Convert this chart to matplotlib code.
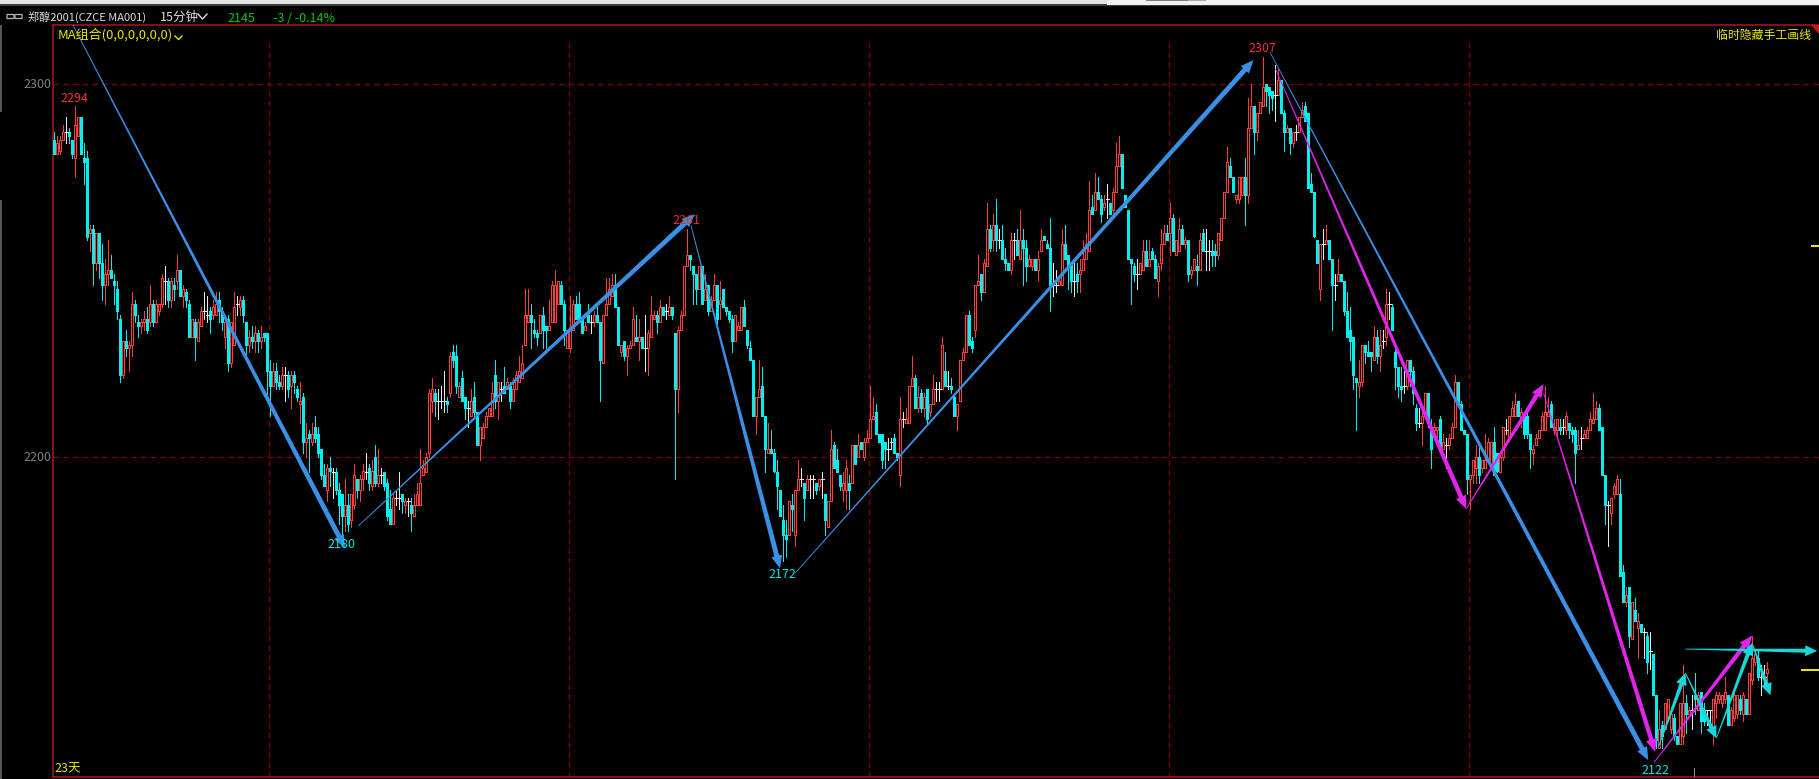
import numpy as np
import matplotlib
matplotlib.use('Agg')
import matplotlib.pyplot as plt
from matplotlib.patches import Polygon, Rectangle, FancyBboxPatch
from matplotlib.transforms import IdentityTransform

plt.rcParams['font.family'] = ['Noto Sans CJK SC', 'DejaVu Sans']

# 15 minute bars
opens = [
 2285,2281,2282,2285,2287,2287,2285,2280,2286,2291, 2280,2280,2260,2261,2252,2260,2252,2246,2249,2250,
 2247,2245,2237,2222,2231,2229,2230,2241,2236,2235, 2236,2237,2236,2241,2236,2239,2241,2247,2247,2242,
 2246,2247,2250,2243,2244,2241,2232,2236,2231,2235, 2239,2238,2239,2238,2238,2242,2239,2232,2237,2225,
 2230,2241,2240,2242,2236,2230,2232,2231,2233,2231, 2233,2233,2223,2219,2223,2220,2219,2222,2222,2219,
 2222,2218,2214,2216,2204,2206,2204,2208,2206,2202, 2195,2191,2197,2196,2196,2191,2190,2184,2187,2183,
 2187,2194,2191,2194,2196,2197,2192,2200,2193,2195, 2196,2193,2186,2182,2189,2189,2190,2187,2188,2187,
 2184,2187,2187,2195,2196,2201,2215,2217,2215,2215, 2215,2215,2217,2228,2227,2216,2221,2216,2213,2211,
 2216,2212,2203,2205,2208,2211,2211,2222,2215,2218, 2219,2218,2219,2215,2218,2220,2221,2230,2236,2238,
 2234,2233,2233,2238,2235,2234,2236,2236,2241,2246, 2241,2229,2229,2234,2241,2241,2237,2234,2238,2236,
 2236,2238,2236,2225,2238,2241,2243,2246,2240,2228, 2231,2227,2229,2230,2232,2231,2232,2229,2229,2232,
 2237,2238,2236,2240,2239,2238,2240,2233,2218,2234, 2238,2251,2254,2251,2249,2245,2251,2242,2246,2239,
 2242,2246,2241,2245,2240,2239,2237,2231,2234,2234, 2240,2234,2229,2226,2211,2216,2219,2211,2201,2202,
 2201,2196,2191,2183,2179,2179,2187,2179,2191,2194, 2193,2191,2194,2194,2193,2192,2194,2190,2181,2188,
 2203,2199,2195,2191,2191,2193,2193,2203,2200,2204, 2200,2204,2205,2210,2212,2206,2206,2204,2202,2204,
 2205,2201,2195,2210,2209,2209,2219,2221,2213,2217, 2213,2218,2212,2214,2218,2218,2218,2223,2219,2219,
 2216,2211,2215,2226,2228,2238,2231,2234,2246,2249, 2244,2251,2261,2258,2262,2258,2258,2253,2252,2250,
 2258,2258,2253,2258,2256,2251,2251,2253,2250,2255, 2259,2257,2256,2246,2246,2246,2246,2257,2254,2252,
 2247,2249,2249,2250,2253,2255,2267,2266,2271,2269, 2267,2269,2268,2266,2271,2278,2281,2270,2266,2253,
 2251,2249,2249,2250,2255,2251,2255,2253,2247,2252, 2257,2260,2260,2264,2254,2255,2261,2257,2258,2249,
 2250,2251,2250,2260,2255,2255,2255,2255,2254,2258, 2264,2271,2278,2275,2269,2269,2270,2275,2270,2288,
 2294,2287,2292,2294,2300,2299,2298,2297,2297,2301, 2292,2287,2288,2284,2287,2287,2291,2294,2292,2273,
 2271,2258,2245,2257,2257,2258,2253,2246,2247,2249, 2247,2239,2234,2232,2221,2219,2220,2230,2228,2228,
 2226,2232,2227,2231,2232,2241,2240,2228,2224,2219, 2219,2219,2226,2223,2213,2209,2209,2211,2217,2207,
 2207,2207,2210,2202,2203,2203,2205,2208,2220,2214, 2207,2206,2194,2195,2197,2200,2197,2197,2199,2198,
 2204,2201,2196,2200,2207,2205,2211,2211,2215,2210, 2211,2211,2206,2201,2203,2205,2207,2207,2211,2214,
 2207,2207,2208,2208,2207,2209,2207,2207,2202,2205, 2205,2205,2207,2209,2210,2213,2208,2195,2187,2185,
 2190,2190,2190,2169,2161,2165,2151,2159,2154,2155, 2153,2152,2148,2147,2136,2122,2128,2127,2130,2127,
 2130,2125,2123,2125,2134,2131,2132,2136,2132,2137, 2132,2132,2132,2127,2134,2135,2134,2135,2136,2128,
 2130,2131,2135,2131,2135,2131,2140,2145,2146,2141,2141,2142]
closes = [
 2281,2284,2285,2287,2287,2286,2281,2289,2291,2281, 2279,2259,2261,2252,2260,2252,2246,2249,2250,2248,
 2246,2239,2222,2231,2229,2230,2241,2238,2235,2236, 2237,2234,2241,2236,2241,2241,2248,2247,2242,2247,
 2245,2250,2243,2245,2242,2232,2237,2232,2236,2239, 2239,2238,2237,2240,2241,2239,2236,2236,2225,2236,
 2240,2241,2242,2238,2230,2232,2231,2233,2231,2232, 2232,2223,2219,2223,2220,2219,2222,2222,2218,2222,
 2220,2216,2215,2204,2205,2205,2206,2205,2201,2195, 2192,2197,2196,2196,2191,2187,2184,2187,2182,2190,
 2195,2191,2194,2196,2196,2193,2196,2193,2195,2195, 2192,2184,2182,2189,2189,2189,2188,2188,2188,2185,
 2187,2190,2193,2197,2200,2217,2218,2215,2215,2215, 2215,2214,2227,2226,2219,2219,2215,2213,2213,2215,
 2212,2203,2208,2208,2211,2213,2217,2215,2220,2218, 2217,2220,2215,2218,2222,2223,2225,2238,2238,2236,
 2233,2232,2238,2234,2234,2235,2246,2246,2247,2241, 2234,2234,2234,2241,2237,2236,2233,2235,2236,2236,
 2238,2236,2226,2238,2241,2245,2246,2240,2230,2230, 2227,2229,2230,2237,2231,2232,2229,2229,2233,2238,
 2238,2236,2240,2238,2239,2240,2238,2218,2234,2238, 2251,2254,2253,2249,2245,2251,2241,2245,2239,2242,
 2246,2237,2242,2240,2239,2237,2231,2238,2235,2240, 2235,2230,2226,2211,2216,2218,2211,2202,2202,2201,
 2196,2192,2184,2179,2178,2188,2186,2191,2194,2194, 2189,2194,2194,2194,2191,2194,2194,2183,2188,2202,
 2197,2196,2192,2193,2197,2191,2203,2198,2203,2202, 2204,2205,2210,2211,2206,2204,2199,2202,2202,2204,
 2201,2200,2210,2210,2210,2219,2221,2213,2216,2213, 2216,2210,2214,2218,2218,2218,2230,2219,2219,2218,
 2211,2214,2226,2228,2238,2230,2229,2246,2247,2244, 2252,2261,2256,2262,2258,2258,2253,2252,2250,2258,
 2258,2254,2258,2256,2251,2253,2253,2250,2253,2258, 2258,2256,2246,2246,2246,2247,2257,2253,2251,2247,
 2247,2247,2250,2253,2257,2266,2265,2271,2269,2265, 2268,2269,2265,2271,2278,2281,2272,2267,2253,2252,
 2249,2249,2252,2255,2251,2253,2253,2248,2251,2257, 2260,2258,2264,2255,2258,2261,2257,2258,2249,2250,
 2253,2250,2258,2255,2255,2255,2254,2254,2260,2264, 2271,2279,2275,2271,2270,2275,2275,2270,2288,2294,
 2287,2292,2295,2299,2298,2297,2296,2297,2301,2292, 2287,2288,2284,2287,2287,2291,2293,2290,2272,2271,
 2259,2252,2257,2257,2258,2253,2246,2246,2249,2247, 2239,2232,2231,2222,2220,2220,2230,2228,2227,2227,
 2232,2227,2230,2231,2241,2241,2234,2224,2219,2218, 2219,2226,2223,2217,2209,2209,2211,2217,2209,2202,
 2208,2208,2202,2204,2203,2205,2208,2220,2214,2207, 2206,2194,2195,2199,2200,2195,2199,2199,2204,2204,
 2195,2196,2200,2208,2207,2211,2213,2214,2211,2212, 2206,2206,2202,2202,2205,2207,2211,2212,2212,2208,
 2208,2210,2207,2208,2211,2207,2206,2201,2203,2205, 2206,2207,2210,2210,2213,2207,2195,2187,2187,2189,
 2192,2194,2168,2161,2163,2152,2161,2156,2156,2153, 2153,2145,2148,2136,2124,2127,2125,2134,2135,2131,
 2125,2123,2134,2134,2131,2132,2132,2135,2136,2129, 2129,2132,2132,2135,2136,2136,2136,2137,2128,2132,
 2136,2136,2132,2136,2131,2142,2146,2147,2141,2141,2141,2143]
highs = [
 2287,2286,2286,2289,2291,2288,2285,2294,2291,2291, 2284,2282,2262,2262,2260,2260,2257,2253,2258,2254,
 2249,2247,2238,2231,2234,2231,2244,2242,2238,2237, 2239,2240,2246,2242,2242,2241,2249,2251,2248,2248,
 2248,2254,2250,2246,2245,2242,2237,2237,2237,2240, 2244,2243,2240,2242,2244,2244,2240,2237,2238,2236,
 2244,2243,2243,2243,2236,2234,2235,2235,2234,2235, 2233,2233,2226,2225,2225,2222,2224,2224,2223,2223,
 2223,2219,2220,2217,2209,2207,2209,2211,2208,2202, 2198,2198,2200,2197,2197,2193,2190,2194,2190,2190,
 2198,2194,2195,2198,2201,2198,2199,2203,2202,2197, 2196,2194,2191,2190,2191,2196,2190,2189,2189,2189,
 2190,2193,2202,2199,2201,2218,2221,2218,2218,2219, 2223,2216,2228,2230,2230,2220,2223,2216,2215,2218,
 2220,2212,2208,2209,2212,2213,2220,2226,2220,2220, 2224,2221,2220,2221,2223,2227,2230,2245,2245,2241,
 2237,2234,2238,2240,2235,2242,2247,2250,2247,2247, 2242,2234,2243,2242,2243,2244,2237,2236,2241,2238,
 2239,2240,2236,2238,2248,2248,2249,2249,2240,2230, 2231,2230,2231,2240,2238,2237,2232,2238,2234,2243,
 2239,2239,2242,2240,2241,2243,2240,2233,2235,2239, 2251,2261,2254,2251,2249,2251,2251,2249,2246,2243,
 2249,2246,2247,2245,2240,2239,2238,2238,2236,2240, 2242,2234,2231,2226,2216,2226,2224,2211,2209,2207,
 2202,2199,2191,2187,2183,2188,2190,2191,2199,2197, 2193,2195,2195,2195,2193,2194,2196,2190,2188,2207,
 2204,2202,2195,2196,2199,2195,2203,2203,2206,2204, 2205,2207,2219,2216,2214,2206,2206,2204,2205,2205,
 2206,2201,2216,2212,2213,2219,2227,2222,2219,2218, 2217,2218,2214,2222,2220,2220,2232,2228,2223,2221,
 2217,2214,2226,2229,2238,2239,2232,2246,2254,2249, 2253,2268,2262,2265,2269,2261,2262,2256,2252,2260,
 2260,2261,2266,2261,2258,2254,2253,2253,2255,2261, 2259,2258,2264,2252,2250,2248,2261,2262,2254,2252,
 2253,2252,2253,2258,2260,2274,2270,2276,2275,2270, 2270,2273,2268,2272,2284,2286,2281,2270,2266,2253,
 2252,2253,2252,2258,2258,2258,2256,2254,2252,2261, 2262,2262,2268,2265,2258,2264,2262,2259,2258,2251,
 2253,2254,2260,2261,2261,2258,2258,2257,2260,2264, 2271,2283,2280,2275,2270,2275,2275,2280,2296,2300,
 2294,2292,2295,2307,2300,2299,2298,2305,2304,2301, 2293,2289,2288,2287,2289,2291,2295,2295,2292,2276,
 2271,2258,2257,2261,2262,2258,2253,2249,2253,2249, 2247,2244,2240,2232,2221,2226,2230,2230,2231,2228,
 2235,2234,2234,2234,2245,2244,2241,2230,2224,2224, 2223,2226,2226,2224,2214,2213,2213,2217,2217,2210,
 2209,2208,2211,2206,2205,2206,2209,2222,2220,2215, 2207,2206,2195,2199,2203,2203,2199,2206,2205,2204,
 2208,2201,2201,2208,2210,2211,2215,2217,2215,2213, 2212,2212,2206,2203,2206,2207,2212,2219,2216,2215,
 2210,2210,2210,2210,2212,2209,2208,2208,2207,2208, 2207,2208,2212,2217,2215,2214,2208,2195,2188,2189,
 2193,2195,2194,2171,2165,2165,2161,2162,2158,2155, 2154,2153,2153,2147,2136,2132,2129,2134,2135,2133,
 2131,2125,2134,2144,2136,2133,2136,2142,2137,2137, 2134,2132,2132,2135,2137,2137,2136,2141,2136,2133,
 2137,2136,2136,2137,2135,2142,2152,2148,2148,2144,2144,2145]
lows = [
 2281,2281,2281,2285,2284,2284,2280,2275,2286,2281, 2273,2258,2255,2246,2250,2248,2242,2241,2246,2248,
 2241,2237,2220,2221,2227,2223,2227,2236,2232,2233, 2234,2233,2235,2235,2236,2238,2240,2241,2240,2240,
 2242,2245,2243,2240,2240,2232,2232,2226,2231,2235, 2237,2236,2233,2237,2238,2236,2234,2229,2223,2224,
 2230,2238,2238,2236,2227,2228,2229,2228,2228,2229, 2231,2215,2211,2219,2218,2218,2218,2215,2216,2213,
 2217,2215,2209,2201,2200,2196,2203,2204,2200,2194, 2192,2188,2192,2189,2190,2182,2179,2180,2180,2181,
 2186,2189,2188,2191,2194,2191,2191,2192,2192,2193, 2191,2183,2182,2182,2187,2186,2185,2185,2184,2180,
 2184,2187,2187,2195,2196,2200,2212,2211,2210,2213, 2212,2212,2216,2224,2217,2216,2215,2210,2208,2211,
 2211,2203,2199,2205,2208,2211,2211,2213,2210,2215, 2217,2218,2213,2215,2218,2220,2221,2230,2236,2229,
 2232,2230,2233,2229,2229,2234,2236,2236,2241,2241, 2230,2229,2228,2234,2237,2236,2233,2234,2236,2233,
 2235,2236,2215,2225,2238,2241,2243,2240,2230,2227, 2226,2222,2229,2230,2231,2226,2229,2223,2222,2232,
 2237,2233,2236,2238,2237,2238,2237,2194,2212,2234, 2238,2251,2250,2241,2241,2245,2241,2242,2238,2239,
 2242,2235,2237,2240,2238,2236,2228,2231,2234,2234, 2235,2229,2226,2211,2206,2216,2211,2196,2201,2201,
 2196,2186,2184,2172,2173,2179,2180,2176,2191,2192, 2183,2191,2189,2189,2190,2191,2189,2179,2181,2188,
 2197,2196,2191,2188,2186,2186,2193,2198,2200,2202, 2199,2204,2205,2210,2206,2204,2197,2197,2199,2202,
 2201,2199,2192,2208,2209,2209,2219,2213,2212,2212, 2211,2209,2211,2214,2215,2215,2218,2219,2218,2217,
 2211,2207,2215,2226,2228,2230,2228,2232,2246,2242, 2244,2251,2255,2255,2255,2256,2253,2250,2250,2249,
 2253,2254,2253,2246,2247,2251,2250,2250,2247,2255, 2258,2256,2239,2243,2244,2246,2246,2253,2245,2244,
 2243,2244,2244,2250,2253,2255,2265,2266,2269,2263, 2266,2264,2265,2264,2271,2278,2272,2267,2253,2241,
 2247,2245,2249,2250,2251,2251,2253,2248,2243,2250, 2257,2258,2254,2255,2254,2255,2257,2256,2247,2248,
 2250,2246,2250,2255,2250,2250,2251,2251,2253,2258, 2264,2271,2275,2271,2268,2268,2270,2262,2268,2288,
 2281,2285,2292,2294,2294,2292,2293,2290,2297,2292, 2282,2287,2281,2283,2285,2287,2291,2290,2272,2271,
 2259,2252,2242,2253,2257,2253,2234,2242,2247,2247, 2238,2232,2226,2218,2207,2216,2219,2225,2227,2223,
 2226,2225,2223,2229,2230,2237,2234,2218,2216,2215, 2217,2218,2219,2214,2207,2208,2203,2210,2208,2197,
 2205,2203,2202,2202,2197,2202,2205,2208,2214,2207, 2206,2190,2186,2193,2193,2193,2196,2197,2199,2198,
 2195,2196,2196,2199,2206,2205,2211,2211,2211,2208, 2205,2205,2197,2198,2203,2205,2207,2207,2211,2208,
 2206,2205,2206,2206,2206,2205,2204,2193,2202,2202, 2205,2205,2207,2209,2210,2207,2195,2182,2176,2182,
 2189,2190,2168,2161,2160,2149,2151,2156,2146,2153, 2146,2142,2143,2136,2122,2122,2122,2127,2129,2126,
 2124,2123,2123,2123,2126,2131,2127,2131,2132,2126, 2128,2128,2128,2123,2130,2134,2133,2134,2128,2128,
 2129,2130,2131,2129,2131,2131,2139,2144,2140,2136,2139,2140]

price_ticks = [2200, 2300]
day_lines = [71.7, 171.7, 271.7, 371.7, 471.7]

# hand drawn arrows, (bar, price)
blue_from = [(6.2,2315.7), (101.3,2181.4), (212.2,2262), (247,2168.8), (405.2,2308.4)]
blue_to = [(96.9,2175.5), (213.5,2265), (241.9,2170), (399.7,2306.3), (531.3,2118.6)]
magenta_from = [(407,2304), (470.6,2186), (496.4,2217), (533.2,2118)]
magenta_to = [(470.6,2186), (496.4,2219.4), (533.6,2120.8), (565.9,2152)]
cyan_from = [(534.6,2122), (543.7,2142), (554,2124.5), (565.9,2150), (543.7,2148.4)]
cyan_to = [(543.7,2142), (554,2124.5), (565.9,2150), (572,2136), (587.6,2147.9)]

W, H = 1819, 779
RED = '#ff3c3c'
CYAN = '#00f0f0'
DOJI = '#e8e8e8'
FRAME = '#a81818'
GRID = '#7a0000'
YELLOW = '#e6e600'
GREEN = '#00c800'

fig = plt.figure(figsize=(W / 100, H / 100), dpi=100, facecolor='black')
ax = fig.add_axes([53 / W, (H - 777) / H, (W - 53) / W, (777 - 25) / H], facecolor='black')
ax.set_xlim(-0.43, 588.2)
ax.set_ylim(2114.1, 2315.7)
ax.set_xticks([])
ax.set_yticks([])
for side in ['left', 'top', 'bottom']:
    ax.spines[side].set_color(FRAME)
    ax.spines[side].set_linewidth(1.1)
ax.spines['right'].set_visible(False)

for p in price_ticks:
    ax.plot([-0.43, 588.2], [p, p], color=GRID, lw=1.0, dashes=(4, 3), zorder=1)
for d in day_lines:
    ax.plot([d, d], [2114.1, 2310.8], color=GRID, lw=1.0, dashes=(4, 3), zorder=1)

# candles
bars = np.arange(len(opens))
o = np.array(opens)
c = np.array(closes)
h = np.array(highs)
l = np.array(lows)
up = c > o
down = c < o
flat = c == o
ax.vlines(bars[up], l[up], h[up], color=RED, lw=0.6, zorder=2, antialiased=False)
ax.vlines(bars[down], l[down], h[down], color=CYAN, lw=0.6, zorder=2, antialiased=False)
ax.vlines(bars[flat], l[flat], h[flat], color=DOJI, lw=0.6, zorder=2, antialiased=False)
ax.bar(bars[up], (c - o)[up], bottom=o[up], width=0.68, facecolor='black', edgecolor=RED,
       linewidth=0.6, zorder=3, antialiased=False)
ax.bar(bars[down], (c - o)[down], bottom=o[down], width=0.68, facecolor=CYAN, edgecolor=CYAN,
       linewidth=0.6, zorder=3, antialiased=False)
ax.hlines(o[flat], bars[flat] - 0.5, bars[flat] + 0.5, color=DOJI, lw=0.6, zorder=3, antialiased=False)


def wedge(start, end, color, neck=5.0, head=11.0, length=13.0):
    # thin at the start, wide at the head, worked out in pixels
    a, b = ax.transData.transform([start, end])
    d = (b - a) / np.hypot(*(b - a))
    n = np.array([-d[1], d[0]])
    m = b - d * length
    pts = [a + n * 0.4, m + n * neck / 2, m + n * head / 2, b,
           m - n * head / 2, m - n * neck / 2, a - n * 0.4]
    ax.add_patch(Polygon(pts, closed=True, facecolor=color, edgecolor='none',
                         transform=IdentityTransform(), zorder=5, clip_on=False))


for s, e in zip(blue_from, blue_to):
    wedge(s, e, '#3a90e4', neck=5.0)
for s, e in zip(magenta_from, magenta_to):
    wedge(s, e, '#e424ee', neck=4.5)
for s, e in zip(cyan_from, cyan_to):
    wedge(s, e, '#16d8d8', neck=4.0, head=11.0, length=12.0)


def label(x, y, text, color, size=9, ha='left'):
    fig.text(x / W, 1 - (y + 1) / H, text, color=color, fontsize=size, ha=ha, va='center')


def px_rect(x, y, w, hh, color):
    fig.add_artist(Rectangle((x / W, 1 - (y + hh) / H), w / W, hh / H, transform=fig.transFigure,
                             facecolor=color, edgecolor='none'))


# window strip above the chart
px_rect(0, 0, W, 4, '#e4e4e4')
px_rect(0, 4, W, 2, '#3c3c3c')
px_rect(1107, 0, W - 1107, 5, '#f0f0f0')
px_rect(1146, 0, 42, 1, '#808080')
px_rect(1188, 0, 18, 1, '#a8a8b8')
px_rect(0, 25, 1.5, 87, '#555555')
px_rect(0, 200, 1.5, 579, '#555555')

# title row
for x0 in [7, 15]:
    fig.add_artist(FancyBboxPatch((x0 / W, 1 - 18.5 / H), 7 / W, 4 / H, transform=fig.transFigure,
                                  boxstyle='round,pad=0', facecolor='none', edgecolor='#b8b8b8', lw=0.9))
label(28, 16, '郑醇2001(CZCE MA001)', '#dcdcdc', size=8)
label(160, 16, '15分钟', '#dcdcdc')
fig.add_artist(plt.Line2D([198 / W, 202.5 / W, 207 / W], [1 - 14 / H, 1 - 19 / H, 1 - 14 / H],
                          color='#dcdcdc', lw=1.0))
label(227, 17, '2145', GREEN)
label(273, 17, '-3 / -0.14%', GREEN)

# chart corners
label(58, 34, 'MA组合(0,0,0,0,0,0)', YELLOW, size=9.4)
fig.add_artist(plt.Line2D([175 / W, 178.5 / W, 182 / W], [1 - 36 / H, 1 - 39.5 / H, 1 - 36 / H],
                          color=YELLOW, lw=1.0))
label(1811, 34, '临时隐藏手工画线', YELLOW, size=8.6, ha='right')
label(54, 768, '23天', YELLOW)
fig.add_artist(Polygon([(1811 / W, 1 - 25 / H), (1819 / W, 1 - 25 / H), (1819 / W, 1 - 34 / H)],
                       closed=True, transform=fig.transFigure, facecolor='#d01818', edgecolor='none'))

# axis numbers
label(51, 83.5, '2300', '#808080', ha='right')
label(51, 456.5, '2200', '#808080', ha='right')

# high / low marks
label(74, 97, '2294', '#f03030', ha='center')
label(686, 219, '2261', '#e03030', ha='center')
label(1262, 48, '2307', '#f03030', ha='center')
label(341, 543, '2180', '#00e8e8', ha='center')
label(782, 573, '2172', '#00e8e8', ha='center')
label(1655, 769, '2122', '#00e8e8', ha='center')

# right edge marks
px_rect(1811, 245, 8, 1.5, YELLOW)
px_rect(1801, 669, 18, 1.5, YELLOW)
px_rect(1694, 768, 1.2, 9, '#909090')

fig.savefig('out.png', dpi=100, facecolor='black')
